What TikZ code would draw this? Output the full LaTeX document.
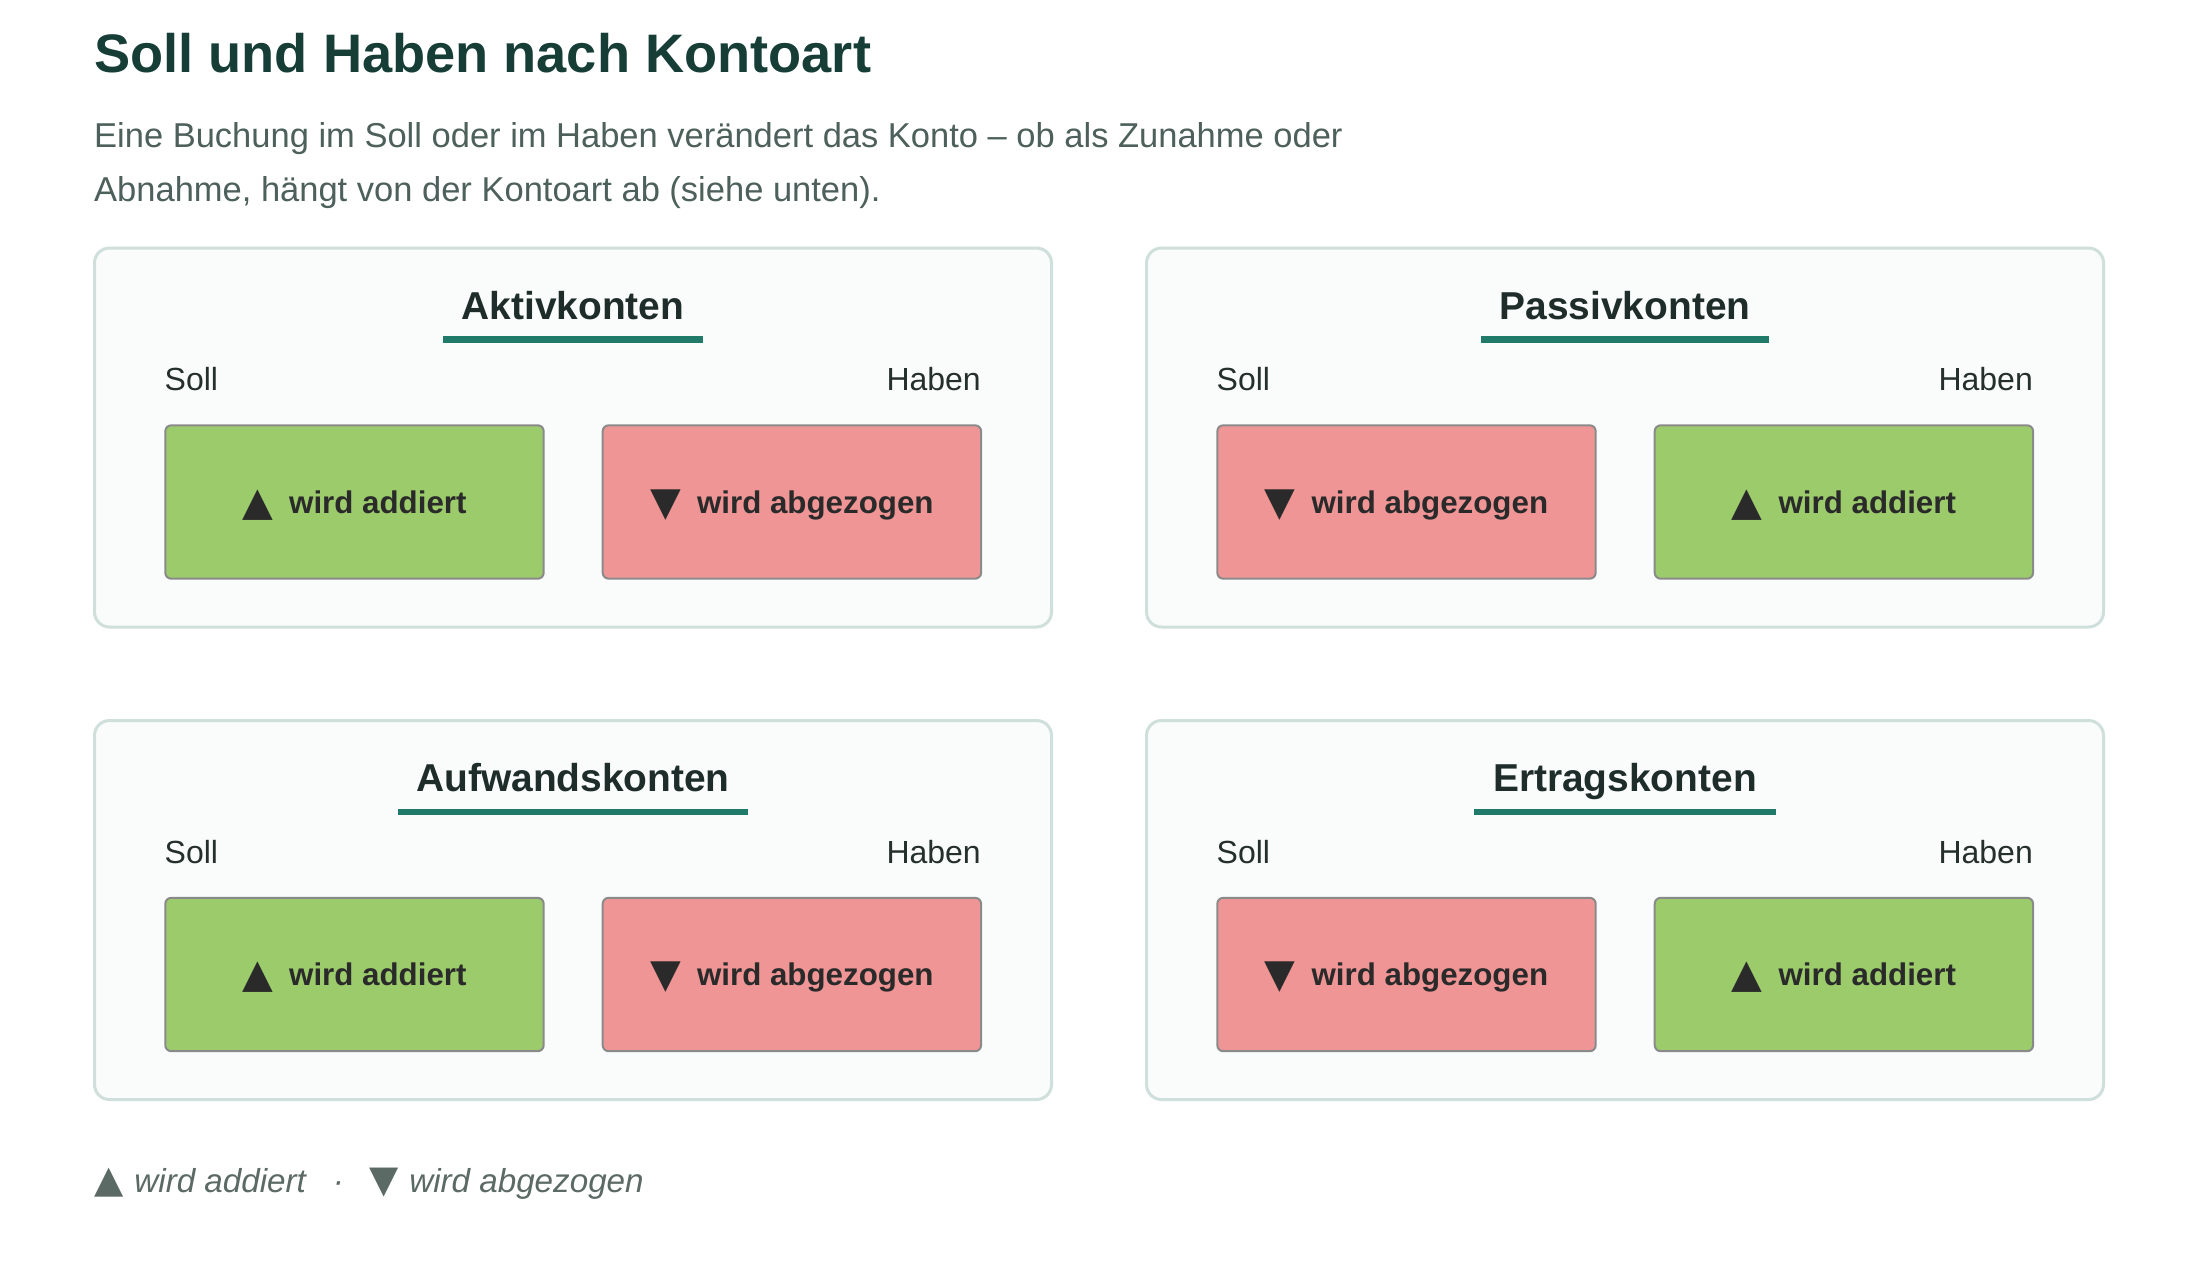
\documentclass[tikz,border=0pt]{standalone}
\usepackage{fontspec}
\setmainfont{Liberation Sans}
\newfontfamily\symf{DejaVu Sans}
\usetikzlibrary{calc}
\definecolor{titlec}{HTML}{163E37}
\definecolor{subc}{HTML}{4D605B}
\definecolor{panelfill}{HTML}{FAFCFB}
\definecolor{panelline}{HTML}{CFDFDB}
\definecolor{headc}{HTML}{1E2D2A}
\definecolor{ulc}{HTML}{1F7A6A}
\definecolor{labc}{HTML}{25302D}
\definecolor{addc}{HTML}{9CCB6B}
\definecolor{subfill}{HTML}{F09595}
\definecolor{boxline}{HTML}{8A8A8A}
\definecolor{btc}{HTML}{2A2A2A}
\definecolor{legc}{HTML}{5C6A66}
\newcommand\fsz[1]{\fontsize{#1}{#1}\selectfont}
\newcommand\upsym{{\symf\fsz{40}\raisebox{-2pt}{▲}}}
\newcommand\downsym{{\symf\fsz{40}\raisebox{-2pt}{▼}}}
\newcommand\addtxt{\upsym\hspace{16pt}wird addiert}
\newcommand\subtxt{\downsym\hspace{16pt}wird abgezogen}
\tikzset{
  outerbox/.style={draw=panelline, line width=3pt, fill=panelfill, rounded corners=15pt,
    minimum width=957pt, minimum height=379pt, inner sep=0pt, outer sep=0pt, anchor=north west},
  headtxt/.style={font=\bfseries\fsz{38.9}, text=headc, inner sep=0pt, anchor=base},
  uline/.style={draw=ulc, line width=6.5pt},
  labtxt/.style={font=\fsz{32}, text=labc, inner sep=0pt},
  addbox/.style={draw=boxline, line width=2pt, fill=addc, rounded corners=6pt,
    minimum width=378.4pt, minimum height=153.4pt, inner sep=0pt, outer sep=0pt, anchor=north west},
  subbox/.style={addbox, fill=subfill},
  boxtxt/.style={font=\bfseries\fsz{31.3}, text=btc, inner sep=0pt, anchor=base},
}
\newcommand\panel[6]{%
\begin{scope}[shift={(#2,#3)}]
  \node[outerbox] (#1) at (0,0) {};
  \node[headtxt] (#1h) at (478.5,71.3) {#4};
  \draw[uline] ($(#1h.base west)+(-18.5,20)$) -- ($(#1h.base east)+(18.5,20)$);
  \node[labtxt, anchor=base west] (#1soll) at (70,142.5) {Soll};
  \node[labtxt, anchor=base east] (#1haben) at (886.5,142.5) {Haben};
  \node[#5box] (#1l) at (70.8,177.3) {};
  \node[#6box] (#1r) at (508.2,177.3) {};
  \node[boxtxt] (#1lt) at (260,265) {\csname #5txt\endcsname};
  \node[boxtxt] (#1rt) at (697.4,265) {\csname #6txt\endcsname};
\end{scope}}
\begin{document}
\begin{tikzpicture}[x=1pt,y=-1pt]
\useasboundingbox (0,0) rectangle (2197,1264);
\fill[white] (0,0) rectangle (2197,1264);
\node[font=\bfseries\fsz{54.2}, text=titlec, inner sep=0pt, anchor=base west] (title) at (94,72) {Soll und Haben nach Kontoart};
\node[font=\fsz{34.5}, text=subc, inner sep=0pt, anchor=base west] (sub1) at (94,147) {Eine Buchung im Soll oder im Haben verändert das Konto – ob als Zunahme oder};
\node[font=\fsz{34.5}, text=subc, inner sep=0pt, anchor=base west] (sub2) at (94,201) {Abnahme, hängt von der Kontoart ab (siehe unten).};
\panel{akt}{94.5}{248}{Aktivkonten}{add}{sub}
\panel{pas}{1146.5}{248}{Passivkonten}{sub}{add}
\panel{auf}{94.5}{720.5}{Aufwandskonten}{add}{sub}
\panel{ert}{1146.5}{720.5}{Ertragskonten}{sub}{add}
\node[font=\itshape\fsz{33.2}, text=legc, inner sep=0pt, anchor=base west] (legend) at (94,1192.7)
  {{\symf\fsz{38}▲}\hspace{11pt}wird addiert\hspace{27pt}·\hspace{25pt}{\symf\fsz{38}▼}\hspace{11pt}wird abgezogen};
\end{tikzpicture}
\end{document}
